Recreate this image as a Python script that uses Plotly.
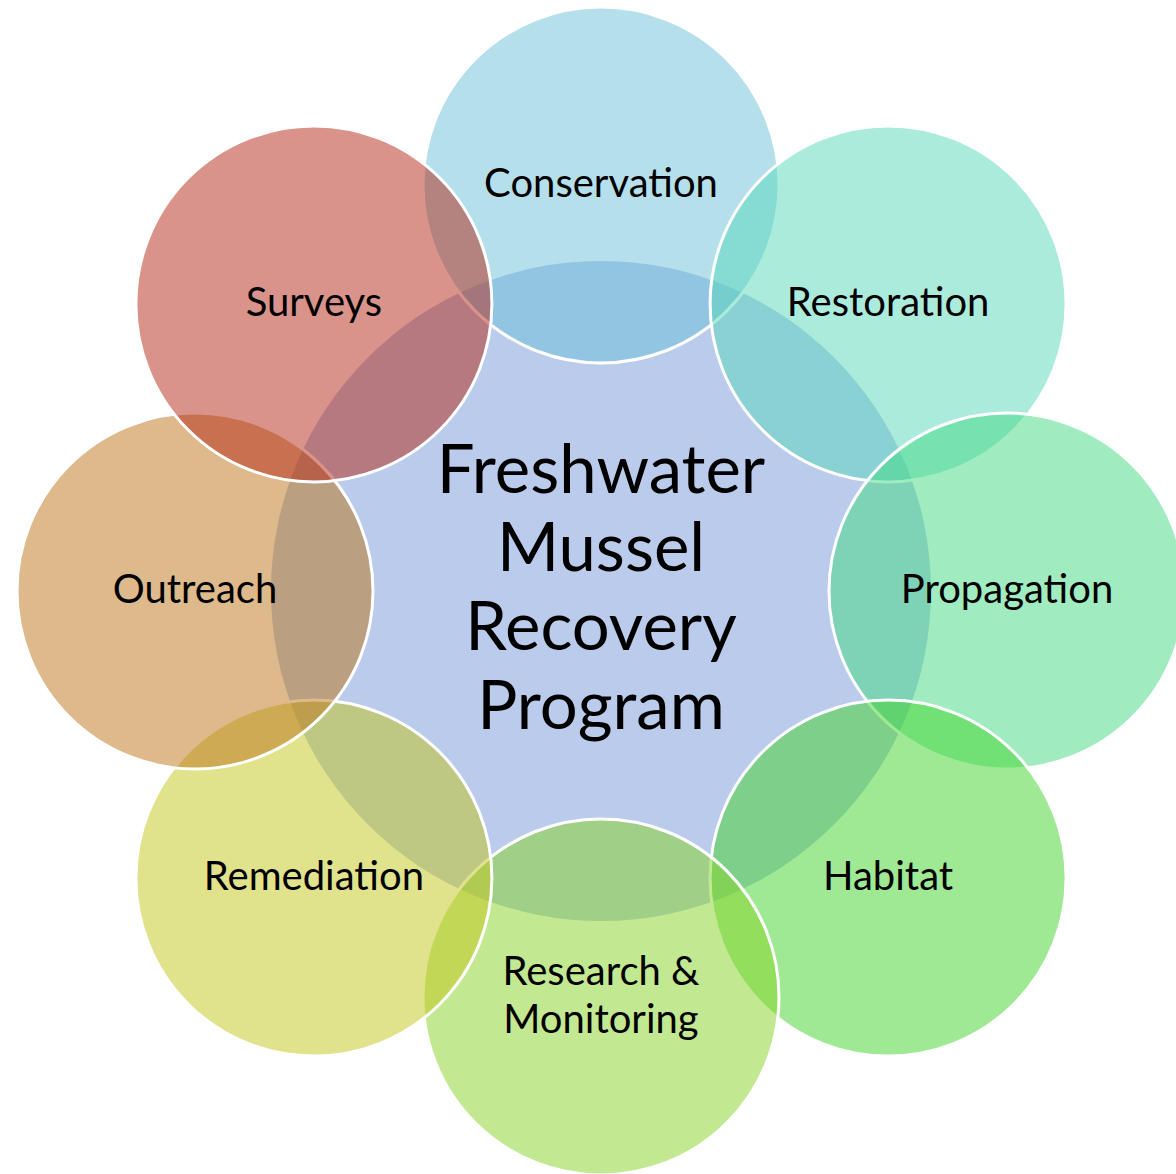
import plotly.graph_objects as go
import math

# ---- data ----
center_label = "Freshwater<br>Mussel<br>Recovery<br>Program"
labels = ["Conservation", "Restoration", "Propagation", "Habitat",
          "Research &<br>Monitoring", "Remediation", "Outreach", "Surveys"]
fill_colors = ["rgba(105,191,216,0.5)", "rgba(87,215,185,0.5)", "rgba(65,217,129,0.5)",
               "rgba(65,211,41,0.5)", "rgba(133,211,37,0.5)", "rgba(193,197,25,0.5)",
               "rgba(187,115,23,0.5)", "rgba(179,39,21,0.5)"]
center_color = "rgb(187,203,235)"

# ---- layout geometry ----
W, H = 1176, 1174
cx, cy = 601, 591
ring_R = 406
small_r = 178
big_r = 330
small_font, small_lh = 40, 48
big_font, big_lh = 67, 78.7

fig = go.Figure()
shapes = []
shapes.append(dict(type="circle", xref="x", yref="y",
                   x0=cx - big_r, x1=cx + big_r, y0=cy - big_r, y1=cy + big_r,
                   fillcolor=center_color, line=dict(width=0), layer="below"))
tx, ty, tt = [], [], []
n = len(labels)
for i in range(n):
    a = math.radians(i * 360 / n)
    px = cx + ring_R * math.sin(a)
    py = cy - ring_R * math.cos(a)
    shapes.append(dict(type="circle", xref="x", yref="y",
                       x0=px - small_r, x1=px + small_r, y0=py - small_r, y1=py + small_r,
                       fillcolor=fill_colors[i], line=dict(color="white", width=3),
                       layer="below"))
    lines = labels[i].split("<br>")
    for k, ln in enumerate(lines):
        tx.append(px)
        ty.append(py + 2 + (k - (len(lines) - 1) / 2) * small_lh)
        tt.append(ln)

fig.add_trace(go.Scatter(x=tx, y=ty, mode="text", text=tt,
                         textfont=dict(family="Lato", size=small_font, color="black"),
                         hoverinfo="skip", showlegend=False))

clines = center_label.split("<br>")
cxs = [cx] * len(clines)
cys = [cy + 3 + (k - (len(clines) - 1) / 2) * big_lh for k in range(len(clines))]
fig.add_trace(go.Scatter(x=cxs, y=cys, mode="text", text=clines,
                         textfont=dict(family="Lato", size=big_font, color="black"),
                         hoverinfo="skip", showlegend=False))

fig.update_layout(
    width=W, height=H, margin=dict(l=0, r=0, t=0, b=0),
    paper_bgcolor="white", plot_bgcolor="white", shapes=shapes,
    xaxis=dict(range=[0, W], visible=False, fixedrange=True),
    yaxis=dict(range=[H, 0], visible=False, fixedrange=True),
)
fig.write_html("out.html", config={"displayModeBar": False},
               post_script="document.body.style.margin='0';")
